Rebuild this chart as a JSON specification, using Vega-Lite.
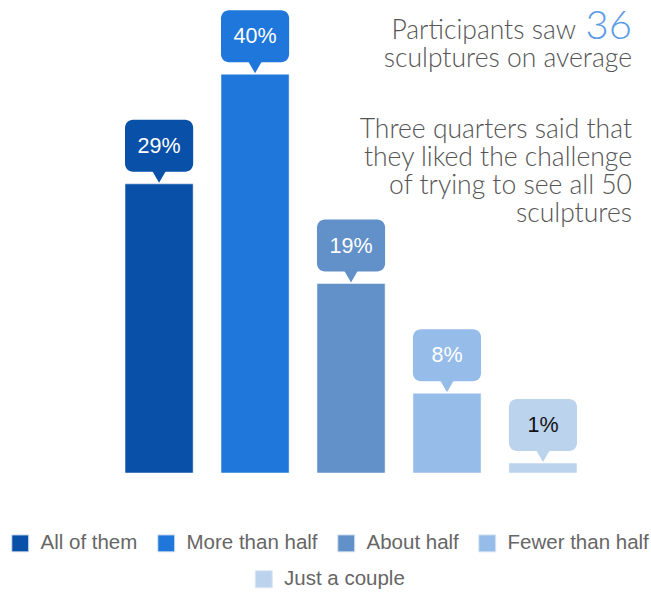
{
  "$schema": "https://vega.github.io/schema/vega-lite/v6.json",
  "autosize": "none",
  "width": 524,
  "height": 473,
  "padding": {"left": 67, "top": 0, "right": 60, "bottom": 119},
  "background": "white",
  "data": {
    "values": [
      {"cat": "All of them", "pct": 29, "label": "29%"},
      {"cat": "More than half", "pct": 40, "label": "40%"},
      {"cat": "About half", "pct": 19, "label": "19%"},
      {"cat": "Fewer than half", "pct": 8, "label": "8%"},
      {"cat": "Just a couple", "pct": 1, "label": "1%"}
    ]
  },
  "encoding": {
    "x": {
      "field": "cat",
      "type": "nominal",
      "sort": null,
      "axis": null,
      "scale": {
        "domain": ["All of them", "More than half", "About half", "Fewer than half", "Just a couple"],
        "paddingInner": 0.29,
        "paddingOuter": 0.375,
        "align": 0.806
      }
    },
    "y": {
      "field": "pct",
      "type": "quantitative",
      "axis": null,
      "scale": {"domain": [0, 47.44], "nice": false, "zero": true}
    }
  },
  "layer": [
    {
      "mark": {"type": "bar", "stroke": "#ffffff", "strokeOpacity": 0.5, "strokeWidth": 1},
      "encoding": {
        "color": {
          "field": "cat",
          "type": "nominal",
          "scale": {
            "domain": ["All of them", "More than half", "About half", "Fewer than half", "Just a couple"],
            "range": ["#0850a8", "#1f77db", "#6191c8", "#96bdea", "#bcd3ee"]
          },
          "legend": {
            "values": ["All of them", "More than half", "About half", "Fewer than half"],
            "title": null,
            "orient": "bottom",
            "direction": "horizontal"
          }
        }
      }
    },
    {
      "transform": [{"filter": "datum.cat === 'Just a couple'"}],
      "mark": {"type": "bar", "stroke": "#ffffff", "strokeOpacity": 0.5, "strokeWidth": 1},
      "encoding": {
        "fill": {
          "field": "cat",
          "type": "nominal",
          "scale": {"domain": ["Just a couple"], "range": ["#bcd3ee"]},
          "legend": {"title": null, "orient": "bottom", "direction": "horizontal"}
        }
      }
    },
    {
      "mark": {"type": "bar", "yOffset": -12, "y2Offset": -64, "cornerRadius": 8},
      "encoding": {
        "y2": {"field": "pct"},
        "color": {"field": "cat", "type": "nominal", "legend": null}
      }
    },
    {
      "mark": {"type": "point", "shape": "triangle-down", "filled": true, "opacity": 1, "size": 300, "yOffset": -8.5},
      "encoding": {
        "color": {"field": "cat", "type": "nominal", "legend": null}
      }
    },
    {
      "mark": {"type": "text", "font": "Liberation Sans", "fontSize": 21.5, "baseline": "middle", "align": "center", "yOffset": -37},
      "encoding": {
        "text": {"field": "label"},
        "color": {"condition": {"test": "datum.pct < 5", "value": "#111111"}, "value": "#ffffff"}
      }
    },
    {
      "transform": [{"filter": "datum.cat === 'Just a couple'"}],
      "mark": {"type": "text", "font": "Lato", "fontWeight": 300, "fontSize": 26.5, "color": "#555555", "align": "right", "baseline": "alphabetic", "xOffset": 33},
      "encoding": {
        "x": {"datum": "Just a couple"},
        "y": {"datum": 43.53},
        "text": {"value": "Participants saw"}
      }
    },
    {
      "transform": [{"filter": "datum.cat === 'Just a couple'"}],
      "mark": {"type": "text", "font": "Lato", "fontWeight": 300, "fontSize": 40, "color": "#5a9ae6", "align": "right", "baseline": "alphabetic", "xOffset": 89},
      "encoding": {
        "x": {"datum": "Just a couple"},
        "y": {"datum": 43.53},
        "text": {"value": "36"}
      }
    },
    {
      "transform": [{"filter": "datum.cat === 'Just a couple'"}],
      "mark": {"type": "text", "font": "Lato", "fontWeight": 300, "fontSize": 26.5, "color": "#555555", "align": "right", "baseline": "alphabetic", "xOffset": 89},
      "encoding": {
        "x": {"datum": "Just a couple"},
        "y": {"datum": 40.72},
        "text": {"value": "sculptures on average"}
      }
    },
    {
      "transform": [{"filter": "datum.cat === 'Just a couple'"}],
      "mark": {"type": "text", "font": "Lato", "fontWeight": 300, "fontSize": 26.5, "color": "#555555", "align": "right", "baseline": "alphabetic", "lineHeight": 28, "xOffset": 89},
      "encoding": {
        "x": {"datum": "Just a couple"},
        "y": {"datum": 33.6},
        "text": {"value": ["Three quarters said that", "they liked the challenge", "of trying to see all 50", "sculptures"]}
      }
    }
  ],
  "resolve": {"scale": {"color": "shared"}},
  "config": {
    "view": {"stroke": null},
    "legend": {
      "labelFont": "Liberation Sans",
      "labelFontSize": 20.5,
      "labelColor": "#666666",
      "symbolType": "square",
      "symbolSize": 289,
      "symbolStrokeColor": "#dde6f2",
      "symbolStrokeWidth": 1,
      "labelOffset": 10,
      "columnPadding": 17,
      "offset": 60,
      "padding": 0,
      "layout": {"bottom": {"direction": "vertical", "anchor": "middle", "center": true, "margin": 15}}
    }
  }
}
